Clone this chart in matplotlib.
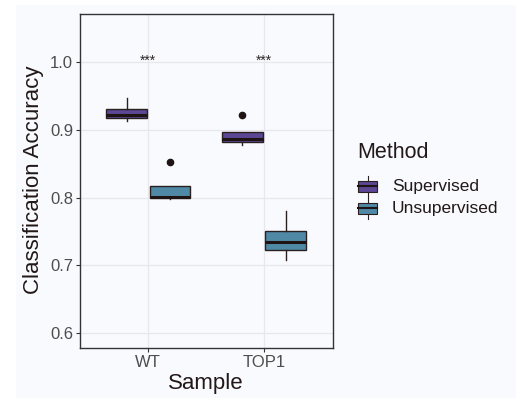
import matplotlib
matplotlib.use("Agg")
import matplotlib.pyplot as plt
from matplotlib.patches import Rectangle

plt.rcParams['font.family'] = ['Liberation Sans', 'DejaVu Sans']

# ---- data ----
samples = ["WT", "TOP1"]
methods = ["Supervised", "Unsupervised"]
colors = ["#5b4793", "#5089a6"]
# per sample, per method: whislo, q1, med, q3, whishi, outliers
whislo = [[0.913, 0.798], [0.878, 0.708]]
q1 = [[0.917, 0.800], [0.882, 0.7225]]
med = [[0.9227, 0.8016], [0.8873, 0.7343]]
q3 = [[0.9315, 0.817], [0.897, 0.751]]
whishi = [[0.947, 0.817], [0.897, 0.7805]]
fliers = [[[], [0.8533]], [[0.9227], []]]
signif = ["***", "***"]
signif_y = 1.0
yticks = [0.6, 0.7, 0.8, 0.9, 1.0]
ytick_labels = ["0.6", "0.7", "0.8", "0.9", "1.0"]

W, H = 516, 398
fig = plt.figure(figsize=(W / 100, H / 100), dpi=100)
fig.patch.set_facecolor("white")
bg = "#f9fafe"
fig.patches.append(Rectangle((16 / W, 0), 1, (H - 5) / H, transform=fig.transFigure,
                             facecolor=bg, edgecolor="none", zorder=-10))

ax = fig.add_axes([80 / W, (H - 348) / H, (333 - 80) / W, (348 - 13.5) / H])
ax.set_facecolor(bg)

edge = "#2b2020"
dodge = 0.1875
bw = 0.35
for i, s in enumerate(samples):
    for j, m in enumerate(methods):
        pos = i + 1 + (-dodge if j == 0 else dodge)
        st = dict(whislo=whislo[i][j], q1=q1[i][j], med=med[i][j], q3=q3[i][j],
                  whishi=whishi[i][j], fliers=fliers[i][j])
        ax.bxp([st], positions=[pos], widths=bw, patch_artist=True, showcaps=False,
               boxprops=dict(facecolor=colors[j], edgecolor=edge, linewidth=1.0),
               medianprops=dict(color="#1e1414", linewidth=2.2),
               whiskerprops=dict(color=edge, linewidth=1.0),
               flierprops=dict(marker="o", markerfacecolor="#1e1414", markeredgecolor="#1e1414",
                               markersize=4.5),
               manage_ticks=False, zorder=3)
    ax.text(i + 1, signif_y + 0.002, signif[i], ha="center", va="center", fontsize=10,
            color="#2e2828", zorder=4)

ax.set_xlim(0.41, 2.596)
ax.set_ylim(0.578, 1.072)
ax.set_xticks([1, 2])
ax.set_xticklabels(samples)
ax.set_yticks(yticks)
ax.set_yticklabels(ytick_labels)
ax.grid(True, color="#e8e8ec", linewidth=0.9, zorder=0)
ax.set_axisbelow(True)
for sp in ax.spines.values():
    sp.set_color("#333333")
    sp.set_linewidth(1.0)
ax.tick_params(axis="both", colors="#333333", length=3, width=0.8, labelsize=12,
               labelcolor="#4d4d4d", pad=2)

fig.text(34 / W, 1 - 180 / H, "Classification Accuracy", rotation=90, ha="center", va="center",
         fontsize=16, color="#221818")
fig.text(206 / W, 1 - 384 / H, "Sample", ha="center", va="center", fontsize=16, color="#221818")

# legend (manual, in pixel coordinates)
lax = fig.add_axes([0, 0, 1, 1], facecolor="none")
lax.set_xlim(0, W)
lax.set_ylim(H, 0)
lax.axis("off")
lax.text(357, 153, "Method", ha="left", va="center", fontsize=15.5, color="#221818")
for j, m in enumerate(methods):
    yc = 186 + j * 22
    lax.add_patch(Rectangle((358, yc - 5.5), 19, 11, facecolor=colors[j], edgecolor=edge, linewidth=0.8))
    lax.plot([358, 377], [yc, yc], color="#1e1414", linewidth=1.5)
    lax.plot([367.5, 367.5], [yc - 10.5, yc - 5.5], color=edge, linewidth=0.8)
    lax.plot([367.5, 367.5], [yc + 5.5, yc + 10.5], color=edge, linewidth=0.8)
    lax.text(392, yc, m, ha="left", va="center", fontsize=12.5, color="#221818")

fig.savefig("out.png", dpi=100, facecolor=fig.get_facecolor())
